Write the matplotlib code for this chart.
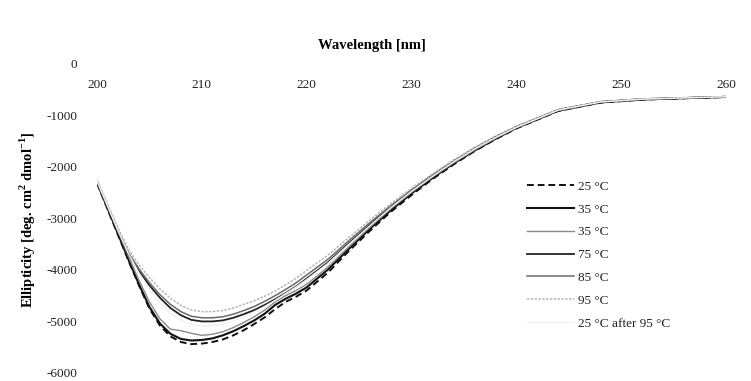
import matplotlib
matplotlib.use("Agg")
import matplotlib.pyplot as plt

wavelength = [200, 201, 202, 203, 204, 205, 206, 207, 208, 209, 210, 211, 212, 213, 214,
              215, 216, 217, 218, 219, 220, 222, 224, 226, 228, 230, 232, 234, 236, 238,
              240, 244, 248, 252, 256, 260]

t25 = [-2320, -2820, -3320, -3820, -4300, -4750, -5080, -5290, -5400, -5440, -5430, -5400,
       -5350, -5270, -5170, -5050, -4920, -4760, -4620, -4520, -4400, -4060, -3640, -3250,
       -2880, -2550, -2240, -1960, -1700, -1470, -1260, -920, -760, -700, -675, -650]
t35a = [-2300, -2800, -3300, -3800, -4280, -4720, -5040, -5240, -5340, -5370, -5360, -5330,
        -5270, -5190, -5090, -4980, -4850, -4680, -4560, -4460, -4340, -4000, -3600, -3210,
        -2850, -2520, -2220, -1940, -1690, -1460, -1250, -915, -755, -698, -672, -648]
t35b = [-2280, -2770, -3260, -3740, -4200, -4620, -4950, -5150, -5180, -5230, -5270, -5250,
        -5200, -5120, -5020, -4910, -4780, -4620, -4500, -4400, -4280, -3950, -3560, -3180,
        -2820, -2500, -2200, -1930, -1680, -1450, -1245, -910, -750, -695, -670, -645]
t75 = [-2310, -2790, -3260, -3700, -4020, -4300, -4540, -4740, -4880, -4970, -5000, -5000,
       -4980, -4930, -4860, -4780, -4680, -4570, -4450, -4320, -4170, -3860, -3490, -3130,
       -2790, -2470, -2180, -1900, -1650, -1430, -1230, -900, -745, -690, -668, -645]
t85 = [-2290, -2770, -3240, -3670, -3980, -4250, -4480, -4670, -4810, -4900, -4930, -4930,
       -4910, -4860, -4790, -4710, -4610, -4500, -4380, -4250, -4100, -3800, -3440, -3090,
       -2760, -2450, -2160, -1890, -1640, -1420, -1225, -895, -742, -688, -665, -642]
t95 = [-2250, -2720, -3180, -3600, -3900, -4150, -4370, -4550, -4690, -4780, -4810, -4810,
       -4790, -4740, -4670, -4600, -4510, -4410, -4290, -4160, -4010, -3720, -3380, -3040,
       -2720, -2420, -2140, -1870, -1630, -1410, -1220, -890, -740, -685, -662, -640]
t25after = [-2280, -2760, -3240, -3690, -4060, -4380, -4640, -4840, -4980, -5060, -5090, -5080,
            -5050, -4990, -4910, -4820, -4710, -4590, -4460, -4330, -4190, -3880, -3510, -3150,
            -2800, -2480, -2190, -1910, -1660, -1440, -1240, -905, -748, -692, -668, -645]

labels = ["25 °C", "35 °C", "35 °C", "75 °C", "85 °C", "95 °C", "25 °C after 95 °C"]
xticks = [200, 210, 220, 230, 240, 250, 260]
yticks = [0, -1000, -2000, -3000, -4000, -5000, -6000]

plt.rcParams['font.family'] = ['Liberation Serif', 'DejaVu Serif']
plt.rcParams['mathtext.fontset'] = 'custom'
plt.rcParams['mathtext.rm'] = 'Liberation Serif'
plt.rcParams['mathtext.bf'] = 'Liberation Serif:bold'

fig = plt.figure(figsize=(7.51, 3.81), dpi=100)
ax = fig.add_axes([97/751, 1 - 373/381, (726 - 97)/751, (373 - 63.5)/381])

series = [t25, t35a, t35b, t75, t85, t95, t25after]
styles = [
    dict(color='#111111', lw=1.4, ls=(0, (3.5, 2))),
    dict(color='#111111', lw=1.5, ls='-'),
    dict(color='#8a8a8a', lw=1.0, ls='-'),
    dict(color='#222222', lw=1.3, ls='-'),
    dict(color='#6a6a6a', lw=1.1, ls='-'),
    dict(color='#b5b5b5', lw=1.1, ls=(0, (1.5, 1))),
    dict(color='#f2f2f2', lw=1.0, ls='-'),
]
for vals, lab, st in zip(series, labels, styles):
    ax.plot(wavelength, vals, label=lab, **st)

ax.set_xlim(200, 260)
ax.set_ylim(-6000, 0)
ax.set_xticks(xticks)
ax.set_yticks(yticks)
ax.set_yticklabels([str(v) for v in yticks])
for s in ax.spines.values():
    s.set_visible(False)
ax.tick_params(axis='x', top=False, bottom=False, labeltop=True, labelbottom=False,
               pad=-20, length=0, labelsize=9.5, labelcolor='#222222')
ax.tick_params(axis='y', left=False, length=0, pad=14, labelsize=9.5, labelcolor='#222222')

fig.text(372/751, 1 - 45/381, "Wavelength [nm]", ha='center', va='center',
         fontsize=10.5, fontweight='bold')
fig.text(28/751, 1 - 220/381, r"Ellipticity [deg. cm$^{\mathbf{2}}$ dmol$^{\mathbf{-1}}$]",
         ha='center', va='center', rotation=90, fontsize=10.5, fontweight='bold')

leg = ax.legend(loc='upper left', bbox_to_anchor=(520/751, 1 - 174/381),
                bbox_transform=fig.transFigure, frameon=False, fontsize=9.5,
                handlelength=3.6, handletextpad=0.3, labelspacing=0.8, borderpad=0)
for t in leg.get_texts():
    t.set_color('#222222')

fig.savefig("out.png", dpi=100)
